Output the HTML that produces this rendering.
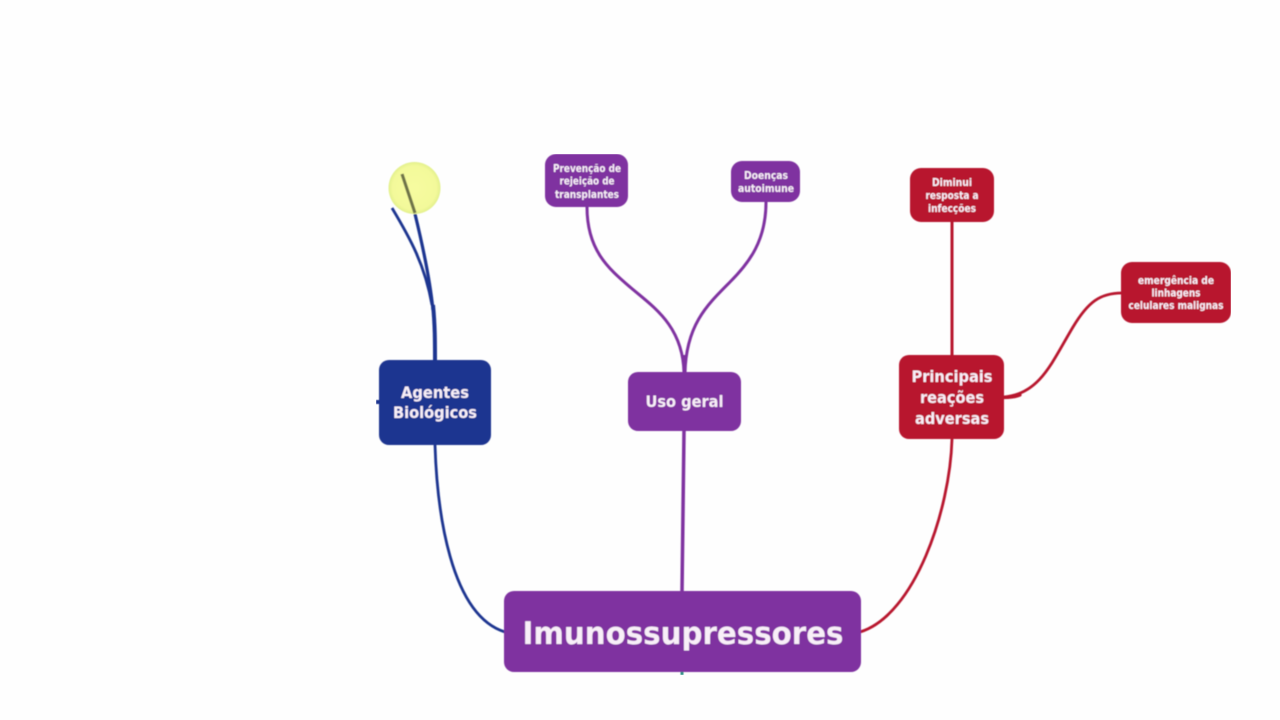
<!DOCTYPE html>
<html><head><meta charset="utf-8">
<style>
html,body{margin:0;padding:0;background:#fefefe;width:1280px;height:720px;overflow:hidden}
svg{display:block}
text{font-family:"DejaVu Sans","Liberation Sans",sans-serif;fill:#f8eff8;text-anchor:middle;font-weight:600}
</style></head><body>
<svg width="1280" height="720" viewBox="0 0 1280 720" xmlns="http://www.w3.org/2000/svg">
<defs>
<filter id="b" x="0" y="0" width="100%" height="100%"><feGaussianBlur stdDeviation="0.4"/></filter>
<radialGradient id="g"><stop offset="0" stop-color="#f6fba0"/><stop offset=".85" stop-color="#f3f99a"/><stop offset="1" stop-color="#e2f08c"/></radialGradient>
</defs>
<rect width="1280" height="720" fill="#fefefe"/>
<g filter="url(#b)">
<!-- blue connectors -->
<g fill="none" stroke="#1f3590" stroke-linecap="butt">
<path d="M435 445C437 510 450 615 505 632" stroke-width="2.800"/>
<path d="M415 214C425 255 431 290 433 310" stroke-width="3.200"/>
<path d="M392 208C410 238 425 265 432 305" stroke-width="2.800"/>
<path d="M433 305C435 325 435 342 435 361" stroke-width="4"/>
<path d="M376 402H380" stroke-width="4"/>
</g>
<circle cx="414.500" cy="188" r="26" fill="url(#g)"/>
<path d="M402 174L415 213" stroke="#6e7348" stroke-width="3.200" fill="none"/>
<!-- purple connectors -->
<g fill="none" stroke="#7f31a0">
<path d="M587 207C587 250 608 268 630 287C652 306 683 325 684 373" stroke-width="3"/>
<path d="M766 202C766 240 750 262 730 282C707 305 686 325 685 373" stroke-width="3"/>
<path d="M684.500 373V355" stroke-width="3.500"/>
<path d="M684 431L682 592" stroke-width="3.500"/>
</g>
<path d="M682 672V675" stroke="#2f8f85" stroke-width="3" fill="none"/>
<!-- red connectors -->
<g fill="none" stroke="#b8182e">
<path d="M952 222V356" stroke-width="3"/>
<path d="M1004 397C1040 394 1052 362 1073 327C1088 302 1100 293 1122 293" stroke-width="2.800"/>
<path d="M1004 397.500C1010 397.500 1015 397 1020 395" stroke-width="3.200" stroke-linecap="round"/>
<path d="M952 439C950 510 915 615 860 632" stroke-width="2.800"/>
</g>
<!-- nodes -->
<rect x="379" y="360" width="112" height="85" rx="10" fill="#1f3590"/>
<rect x="628" y="372" width="113" height="59" rx="10" fill="#7f31a0"/>
<rect x="899" y="355" width="105" height="84" rx="10" fill="#b8182e"/>
<rect x="504" y="591" width="357" height="81" rx="10" fill="#7f31a0"/>
<rect x="545" y="154" width="83" height="53" rx="11" fill="#7f31a0"/>
<rect x="731" y="161" width="69" height="41" rx="11" fill="#7f31a0"/>
<rect x="910" y="168" width="84" height="54" rx="11" fill="#b8182e"/>
<rect x="1121" y="262" width="110" height="61" rx="11" fill="#b8182e"/>
<!-- labels -->
<text x="683" y="644" font-size="31" font-weight="700" textLength="321" lengthAdjust="spacingAndGlyphs">Imunossupressores</text>
<text x="435" y="398" font-size="16" textLength="68" lengthAdjust="spacingAndGlyphs">Agentes</text>
<text x="435" y="418" font-size="16" textLength="84" lengthAdjust="spacingAndGlyphs">Biológicos</text>
<text x="684.500" y="407" font-size="16" textLength="78" lengthAdjust="spacingAndGlyphs">Uso geral</text>
<text x="952" y="382" font-size="16" textLength="81" lengthAdjust="spacingAndGlyphs">Principais</text>
<text x="952" y="403" font-size="16" textLength="64" lengthAdjust="spacingAndGlyphs">reações</text>
<text x="952" y="424" font-size="16" textLength="74" lengthAdjust="spacingAndGlyphs">adversas</text>
<text x="587" y="172" font-size="10.500" textLength="68" lengthAdjust="spacingAndGlyphs">Prevenção de</text>
<text x="587" y="184.500" font-size="10.500" textLength="55" lengthAdjust="spacingAndGlyphs">rejeição de</text>
<text x="587" y="198" font-size="10.500" textLength="64" lengthAdjust="spacingAndGlyphs">transplantes</text>
<text x="766" y="179" font-size="10.500" textLength="44" lengthAdjust="spacingAndGlyphs">Doenças</text>
<text x="766" y="192" font-size="10.500" textLength="56" lengthAdjust="spacingAndGlyphs">autoimune</text>
<text x="952" y="186" font-size="10.500" textLength="40" lengthAdjust="spacingAndGlyphs">Diminui</text>
<text x="952" y="199" font-size="10.500" textLength="53" lengthAdjust="spacingAndGlyphs">resposta a</text>
<text x="952" y="212" font-size="10.500" textLength="48" lengthAdjust="spacingAndGlyphs">infecções</text>
<text x="1176" y="284" font-size="10.500" textLength="76" lengthAdjust="spacingAndGlyphs">emergência de</text>
<text x="1176" y="296.500" font-size="10.500" textLength="49" lengthAdjust="spacingAndGlyphs">linhagens</text>
<text x="1176" y="309" font-size="10.500" textLength="95" lengthAdjust="spacingAndGlyphs">celulares malignas</text>
</g>
</svg>
</body></html>
